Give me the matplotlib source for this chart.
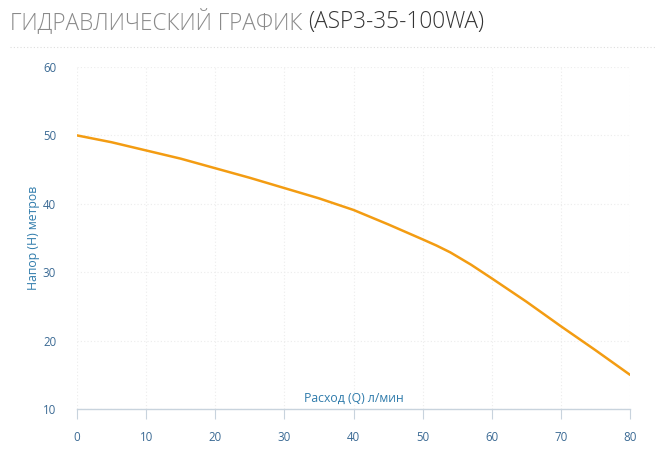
import matplotlib.pyplot as plt
import numpy as np

# flow (l/min) and head (m)
flow = [0, 5, 10, 15, 20, 25, 30, 35, 40, 45, 50, 52, 54, 57, 60, 65, 70, 75, 80]
head = [50.0, 49.0, 47.8, 46.6, 45.2, 43.8, 42.3, 40.8, 39.1, 37.0, 34.8, 33.9, 32.9, 31.1, 29.1, 25.7, 22.1, 18.6, 15.0]
x_ticks = [0, 10, 20, 30, 40, 50, 60, 70, 80]
y_ticks = [10, 20, 30, 40, 50, 60]

title_main = "ГИДРАВЛИЧЕСКИЙ ГРАФИК "
title_model = "(ASP3-35-100WA)"
x_label = "Расход (Q) л/мин"
y_label = "Напор (H) метров"

plt.rcParams['font.family'] = ['Open Sans', 'DejaVu Sans']

label_blue = "#2f7bab"
tick_blue = "#3b6a94"
line_orange = "#f39c12"

fig = plt.figure(figsize=(6.56, 4.49), dpi=100)
ax = fig.add_axes([77 / 656, 1 - 409 / 449, (630 - 77) / 656, (409 - 67) / 449])

ax.plot(flow, head, color=line_orange, linewidth=1.8, solid_capstyle='round',
        solid_joinstyle='round', zorder=3)

ax.set_xlim(0, 80)
ax.set_ylim(10, 60)
ax.set_xticks(x_ticks)
ax.set_yticks(y_ticks)

for spine in ['top', 'right', 'left']:
    ax.spines[spine].set_visible(False)
ax.spines['bottom'].set_color("#c8d3dd")
ax.spines['bottom'].set_linewidth(1)

ax.tick_params(axis='x', direction='out', length=7, width=0.8, color="#c8d3dd",
               pad=9, labelsize=8.3, labelcolor=tick_blue)
ax.tick_params(axis='y', length=0, pad=15, labelsize=8.3, labelcolor=tick_blue)

ax.grid(True, color="#ececec", linestyle=(0, (1, 2)), linewidth=0.8)
ax.set_axisbelow(True)
ax.spines['bottom'].set_zorder(2)

ax.text(0.5, 0.012, x_label, transform=ax.transAxes, ha='center', va='bottom',
        fontsize=8.8, color=label_blue)
fig.text(33 / 656, 1 - 238 / 449, y_label, rotation=90, ha='center', va='center',
         fontsize=8.8, color=label_blue)

# title: light grey first part, darker model code
t1 = fig.text(10 / 656, 1 - 22 / 449, title_main, ha='left', va='center',
              fontsize=16.3, color="#8a8a8a", fontweight='light')
fig.canvas.draw()
bb = t1.get_window_extent()
fig.text(bb.x1 / 656, 1 - 22 / 449, title_model, ha='left', va='center',
         fontsize=16.3, color="#333333", fontweight='light')

# dotted rule under the title
fig.add_artist(plt.Line2D([10 / 656, 1.0], [1 - 47 / 449, 1 - 47 / 449],
                          color="#dddddd", linestyle=(0, (1, 2)), linewidth=0.8))

fig.savefig("out.png", dpi=100)
